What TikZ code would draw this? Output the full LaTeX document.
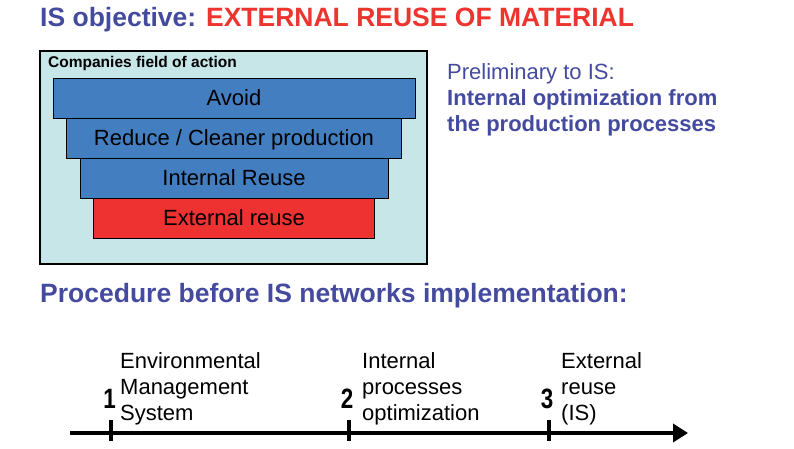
\documentclass[tikz,border=0pt]{standalone}
\usepackage{fontspec}
\setmainfont{Liberation Sans}
\usetikzlibrary{arrows.meta}
\definecolor{tblue}{RGB}{68,74,158}
\definecolor{tred}{RGB}{238,52,46}
\definecolor{barblue}{RGB}{66,126,192}
\definecolor{barred}{RGB}{238,50,50}
\definecolor{boxcyan}{RGB}{198,230,232}
\tikzset{
  bar/.style={draw=black, line width=0.9pt, minimum height=40pt, inner sep=0pt, text height=15.8pt, text depth=0pt, font=\fontsize{22}{26}\selectfont},
  heading/.style={anchor=base west, inner sep=0pt, font=\fontsize{26.5}{30}\selectfont\bfseries},
  lbl/.style={anchor=north west, inner sep=0pt, align=left, font=\fontsize{22}{26}\selectfont},
  num/.style={anchor=base, inner sep=0pt, font=\fontsize{28}{30}\selectfont\bfseries},
  tick/.style={line width=3.5pt},
}
\newcommand{\narrownum}[1]{\scalebox{0.8}[1]{#1}}
\begin{document}
\begin{tikzpicture}[x=1pt,y=-1pt]
\useasboundingbox (0,0) rectangle (794,449);
% title
\node[heading] (title) at (40,27) {\textcolor{tblue}{IS objective: }\textcolor{tred}{EXTERNAL REUSE OF MATERIAL}};
% field box
\node[draw=black, line width=1.3pt, fill=boxcyan, minimum width=387pt, minimum height=213pt, inner sep=0pt] (field) at (233.5,157.5) {};
\node[anchor=base west, inner sep=0pt, font=\fontsize{15.5}{18}\selectfont\bfseries] (fieldlbl) at (48,68) {Companies field of action};
\node[bar, fill=barblue, minimum width=362pt] (avoid) at (234,98) {Avoid};
\node[bar, fill=barblue, minimum width=335pt] (reduce) at (234,138) {Reduce / Cleaner production};
\node[bar, fill=barblue, minimum width=308pt] (intreuse) at (234,178) {Internal Reuse};
\node[bar, fill=barred, minimum width=281pt] (extreuse) at (234,218) {External reuse};
% right text
\node[lbl, text=tblue] (prelim) at (447,63.5) {Preliminary to IS:\\\textbf{Internal optimization from}\\\textbf{the production processes}};
% procedure heading
\node[heading, text=tblue] (proc) at (40,302) {Procedure before IS networks implementation:};
% timeline
\coordinate (tstart) at (70,433);
\coordinate (tend) at (688,433);
\draw[line width=3.5pt, -{Triangle[length=15pt,width=18pt]}] (tstart) -- (tend);
\coordinate (t1a) at (111,420); \coordinate (t1b) at (111,441);
\coordinate (t2a) at (349,420); \coordinate (t2b) at (349,441);
\coordinate (t3a) at (549,420); \coordinate (t3b) at (549,441);
\draw[tick] (t1a) -- (t1b);
\draw[tick] (t2a) -- (t2b);
\draw[tick] (t3a) -- (t3b);
\node[num] (n1) at (109.5,408) {\narrownum{1}};
\node[num] (n2) at (347,408) {\narrownum{2}};
\node[num] (n3) at (547,408) {\narrownum{3}};
\node[lbl] (s1) at (120,352) {Environmental\\Management\\System};
\node[lbl] (s2) at (362,352) {Internal\\processes\\optimization};
\node[lbl] (s3) at (561,352) {External\\reuse\\(IS)};
\end{tikzpicture}
\end{document}
